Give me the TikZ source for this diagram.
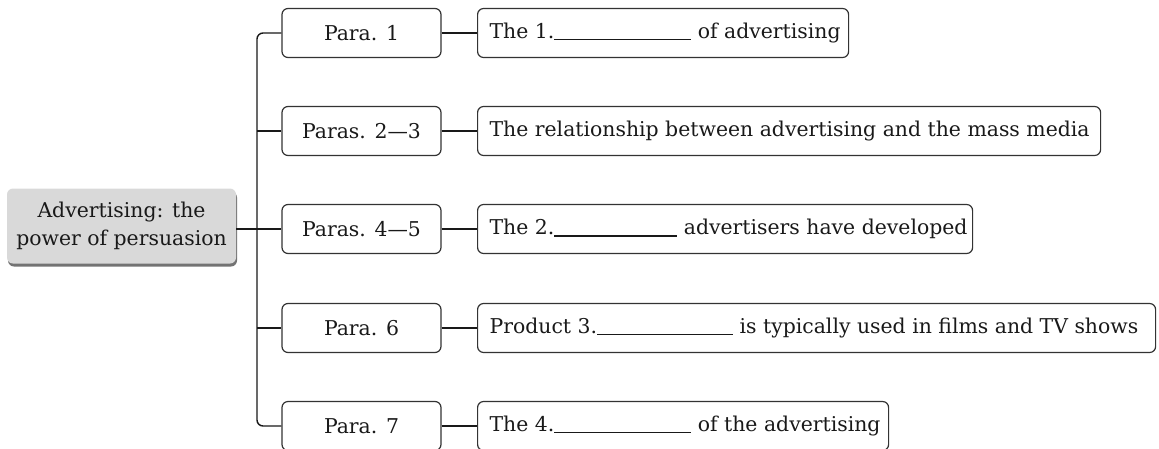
\documentclass[tikz,border=0pt]{standalone}
\usepackage{fontspec}
\setmainfont{DejaVu Serif}
\usetikzlibrary{shadows}
\newcommand{\blankline}[1]{\rule[-2pt]{#1}{1.8pt}}
\begin{document}
\begin{tikzpicture}[x=1pt,y=-1pt,
  every node/.style={font=\fontsize{20.4}{28}\selectfont, text=black!90},
  parabox/.style={draw=black!80, line width=1.2pt, rounded corners=6pt,
    minimum width=159pt, minimum height=49pt, inner sep=0pt},
  topicbox/.style={draw=black!80, line width=1.2pt, rounded corners=6pt,
    minimum height=49pt, inner xsep=12pt, inner ysep=0pt, anchor=west},
  rootbox/.style={fill=black!15, rounded corners=6pt, minimum width=229pt,
    minimum height=75pt, inner sep=0pt, align=center,
    general shadow={fill=black!55, shadow xshift=1pt, shadow yshift=-3pt}},
  conn/.style={line width=1.4pt, draw=black!90}]
\useasboundingbox (0,0) rectangle (1159,448);

\node[rootbox] (root) at (121.5,226) {Advertising: the\\power of persuasion};

\node[parabox] (L1) at (361.5,33) {Para. 1};
\node[parabox] (L2) at (361.5,131) {Paras. 2---3};
\node[parabox] (L3) at (361.5,229) {Paras. 4---5};
\node[parabox] (L4) at (361.5,328) {Para. 6};
\node[parabox] (L5) at (361.5,426) {Para. 7};

\node[topicbox] (R1) at (477,33) {\makebox[347pt][l]{The 1.\blankline{137pt} of advertising}};
\node[topicbox] (R2) at (477,131) {\makebox[599pt][l]{The relationship between advertising and the mass media}};
\node[topicbox] (R3) at (477,229) {\makebox[471pt][l]{The 2.\blankline{123pt} advertisers have developed}};
\node[topicbox] (R4) at (477,328) {\makebox[654pt][l]{Product 3.\blankline{136pt} is typically used in films and TV shows}};
\node[topicbox] (R5) at (477,426) {\makebox[387pt][l]{The 4.\blankline{137pt} of the advertising}};

\coordinate (tk) at (257,229);

\draw[conn] (root.east |- L3.west) -- (L3.west);
\draw[conn, rounded corners=6pt] (L1.west) -- (L1.west -| tk) -- (L5.west -| tk) -- (L5.west);
\draw[conn] (L2.west -| tk) -- (L2.west);
\draw[conn] (L4.west -| tk) -- (L4.west);

\draw[conn] (L1.east) -- (R1.west);
\draw[conn] (L2.east) -- (R2.west);
\draw[conn] (L3.east) -- (R3.west);
\draw[conn] (L4.east) -- (R4.west);
\draw[conn] (L5.east) -- (R5.west);
\end{tikzpicture}
\end{document}
